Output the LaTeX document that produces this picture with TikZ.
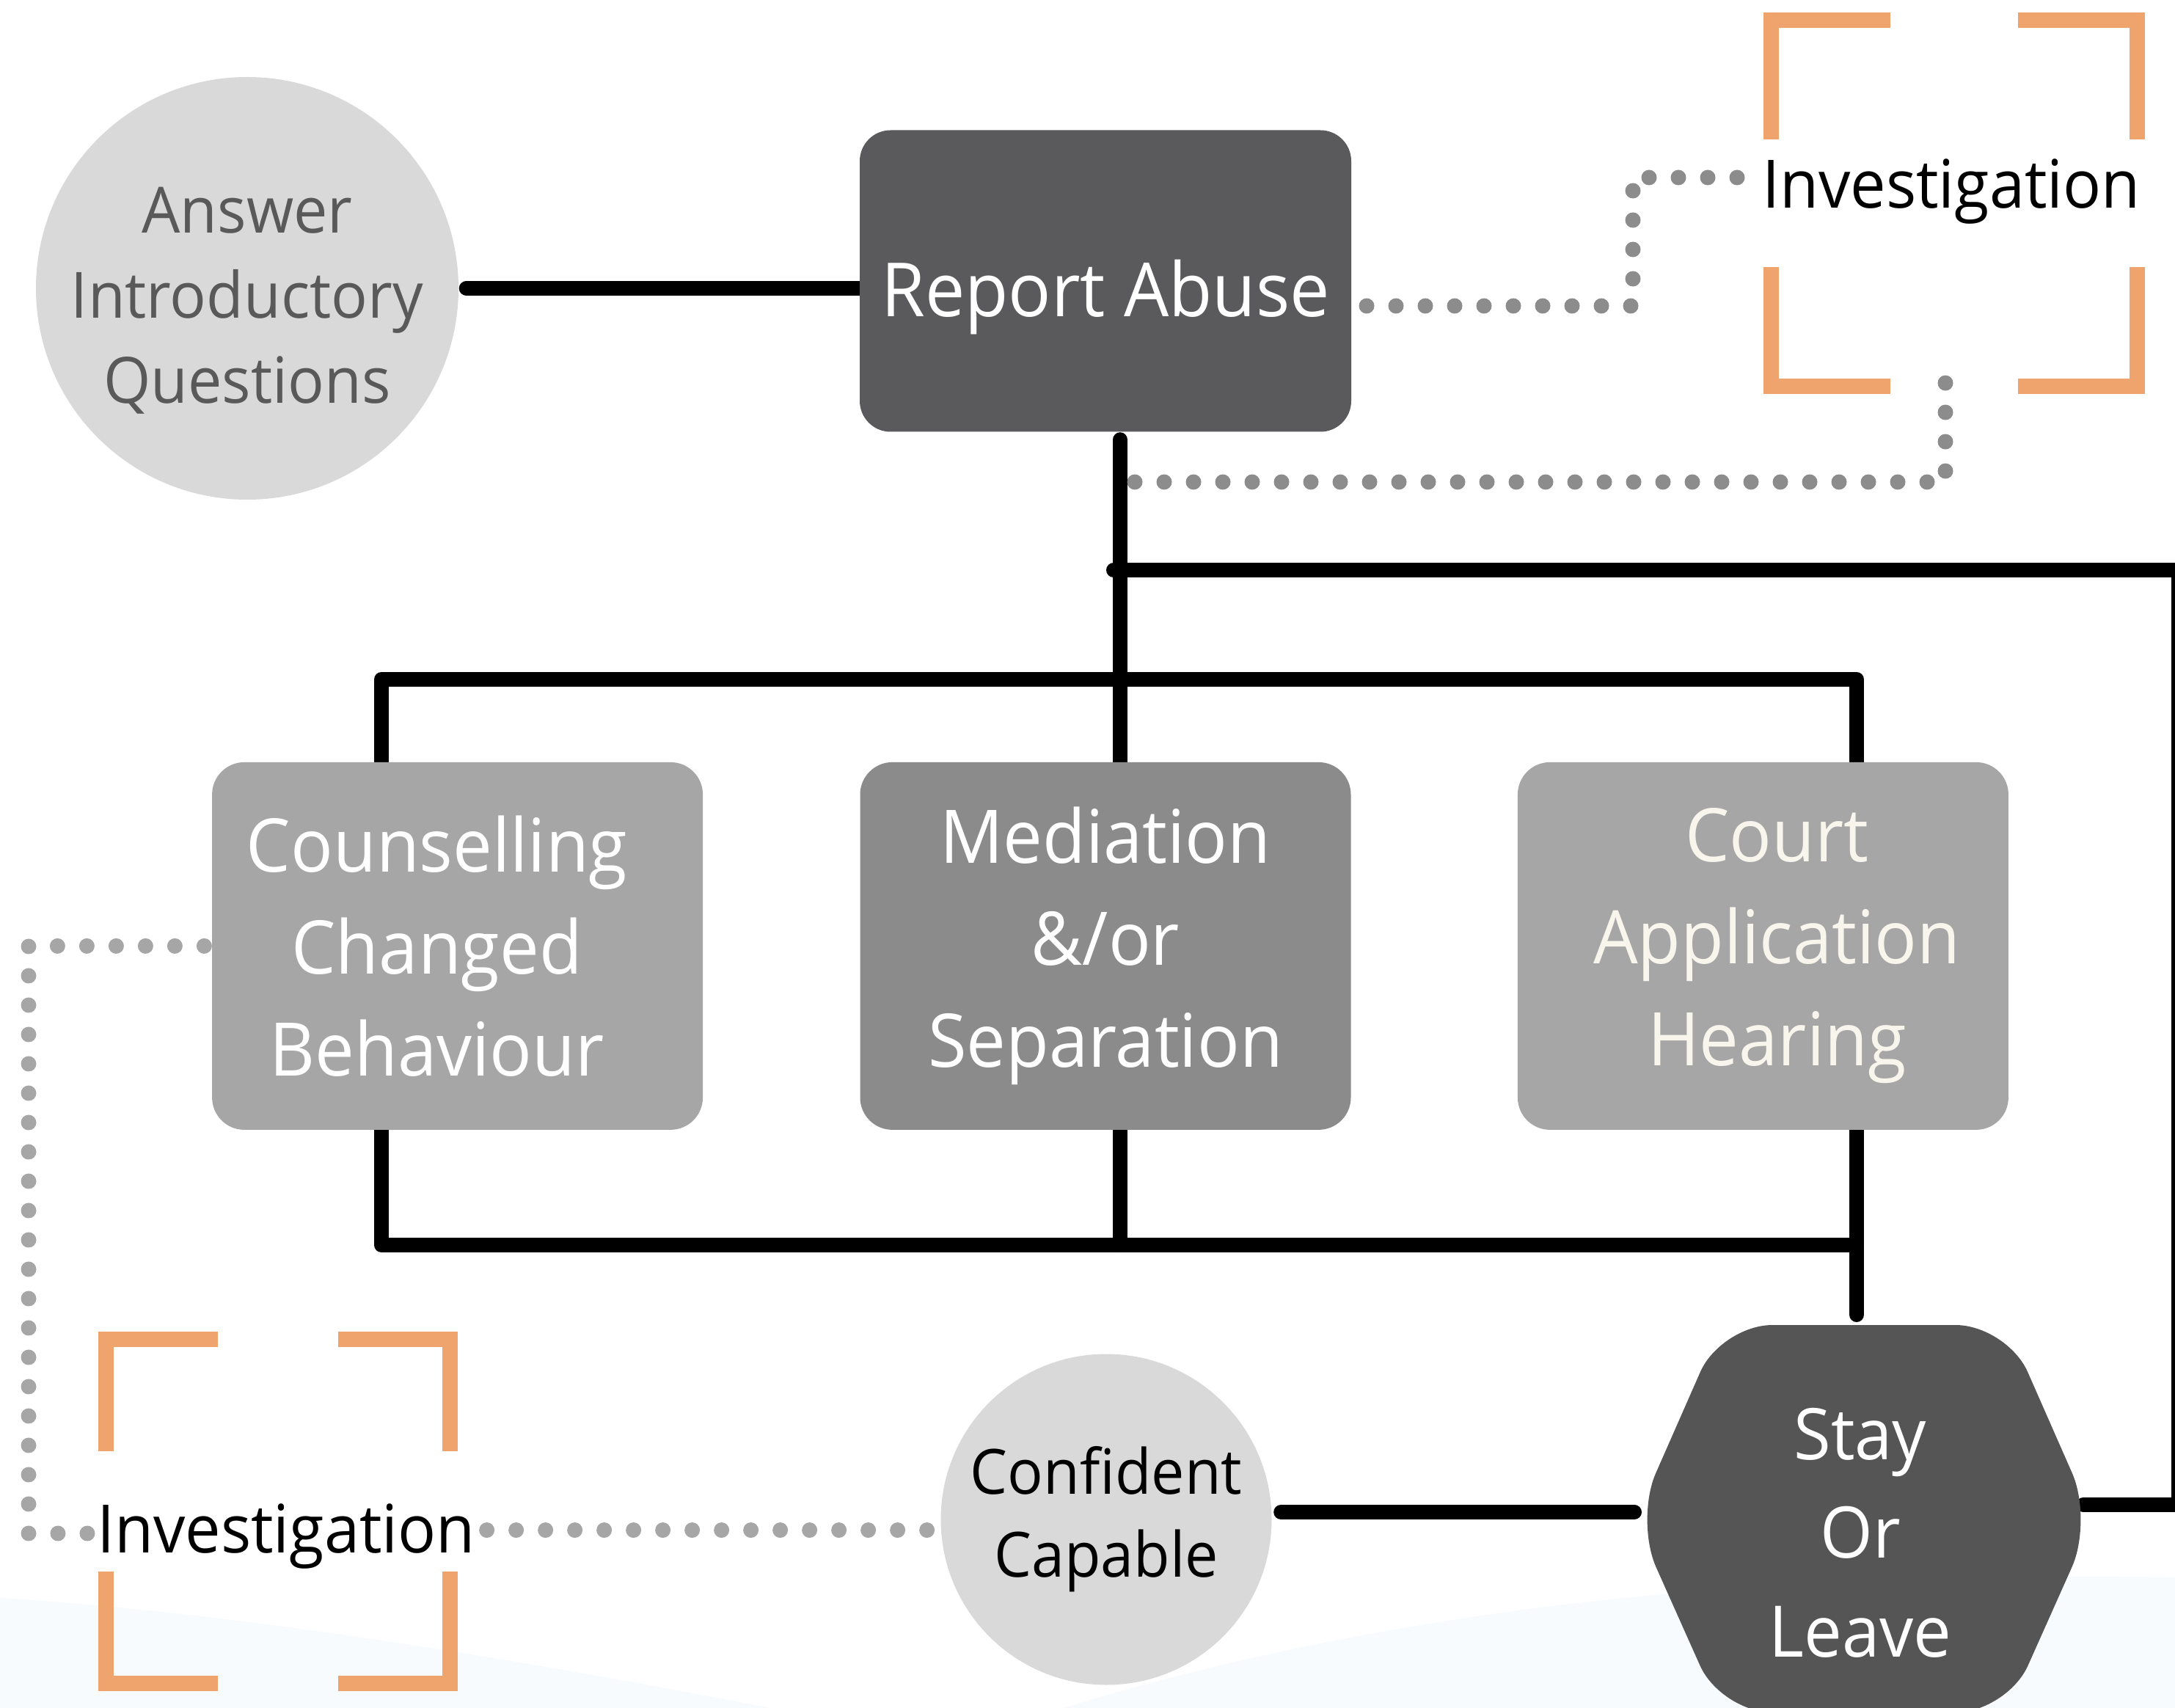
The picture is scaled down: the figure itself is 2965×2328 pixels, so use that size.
\documentclass[tikz,border=0pt]{standalone}
\usepackage{fontspec}
\setmainfont{Open Sans}[FakeStretch=0.95]
\usetikzlibrary{positioning,backgrounds}

\definecolor{darkbox}{HTML}{5A5A5C}
\definecolor{midbox}{HTML}{8B8B8B}
\definecolor{lightbox}{HTML}{A6A6A6}
\definecolor{bubble}{HTML}{D9D9D9}
\definecolor{hexgrey}{HTML}{555555}
\definecolor{introtext}{HTML}{595959}
\definecolor{armorange}{HTML}{EFA46D}
\definecolor{dotgrey}{HTML}{8C8C8C}
\definecolor{dotpale}{HTML}{A6A6A6}
\definecolor{wavetint}{HTML}{F7FBFD}
\definecolor{cream}{HTML}{F7F5EC}

% four orange corner marks round a centre: #1 centre, #2 outer half size
\newcommand{\cornerframe}[2]{%
  \pgfmathsetmacro\armin{#2-10.5}%
  \pgfmathsetmacro\armend{0.335*#2}%
  \foreach \sx/\sy in {1/1,1/-1,-1/1,-1/-1}{
    \draw[framestroke] ([shift={(\sx*\armend,\sy*\armin)}]#1)
      -- ([shift={(\sx*\armin,\sy*\armin)}]#1)
      -- ([shift={(\sx*\armin,\sy*\armend)}]#1);
  }%
}

\begin{document}
\begin{tikzpicture}[
    x=0.1mm, y=-0.1mm,
    every node/.style={inner sep=0pt},
    bubblenode/.style={circle, fill=bubble, minimum size=57.6mm, align=center},
    reportbox/.style={rectangle, fill=darkbox, rounded corners=4.2mm,
                      minimum width=67mm, minimum height=41.1mm, text=white,
                      font=\fontsize{29}{36}\selectfont,
                      text height=9.8mm, text depth=0mm},
    optionbox/.style={rectangle, rounded corners=4.4mm, minimum width=66.9mm,
                      minimum height=50.1mm, text=white, align=center,
                      font=\fontsize{28.7}{39.5}\selectfont},
    investtext/.style={anchor=base, font=\fontsize{25.9}{30}\selectfont},
    hexfill/.style={fill=hexgrey, rounded corners=7mm},
    hextext/.style={text=white, align=center, font=\fontsize{27.6}{38.3}\selectfont},
    framestroke/.style={draw=armorange, line width=2.1mm, line cap=butt, line join=miter},
    link/.style={draw=black, line width=2mm, line cap=round, line join=round},
    dotsdark/.style={draw=dotgrey, line width=2.1mm, line cap=round, dash pattern=on 0pt off 4mm},
    dotslight/.style={draw=dotpale, line width=2.1mm, line cap=round, dash pattern=on 0pt off 4mm},
]
\useasboundingbox (0,0) rectangle (2965,2328);

\node[bubblenode, inner sep=-2mm, text=introtext, font=\fontsize{24.75}{33}\selectfont] (intro) at (337,393)
  {\rule{0pt}{9.6mm}Answer\\Introductory\\Questions};
\node[reportbox] (report) at (1507,383) {Report Abuse};

\node[optionbox, fill=midbox, below=44.9mm of report] (mediate) {Mediation\\\&/or\\Separation};
\node[optionbox, fill=lightbox, left=21.3mm of mediate] (counsel)
  {\hbox{Counselling\kern5.6mm}\\\hbox{Changed\kern5.6mm}\\\hbox{Behaviour\kern5.6mm}};
\node[optionbox, fill=lightbox, text=cream, right=22.6mm of mediate] (court)
  {\hbox{\kern3.8mm Court}\\\hbox{\kern3.8mm Application}\\\hbox{\kern3.8mm Hearing}};

\fill[hexfill] (2346,1806) -- (2736,1806) -- (2853,2072) -- (2736,2334)
  -- (2346,2334) -- (2229,2072) -- cycle;
\node[hextext] (stay) at (2536,2089) {Stay\\Or\\Leave};

\node[bubblenode, minimum size=45.1mm, font=\fontsize{24.2}{32.2}\selectfont] (confident) at (1508,2071)
  {Confident\\Capable};

\node[investtext] (invtop) at (2660,284) {Investigation};
\node[investtext] (invbot) at (390,2116) {Investigation};

\coordinate (frametop) at (2664,277);
\coordinate (framebot) at (379,2060);
\cornerframe{frametop}{260}
\cornerframe{framebot}{245}

\coordinate (loopNW) at (1518,777);
\coordinate (loopNE) at (2970,777);
\coordinate (loopSE) at (2970,2051);
\coordinate (hexE) at (2840,2051);
\coordinate (hexN) at (2531,1792);
\coordinate (hexW) at (2228,2072);
\coordinate (splitL) at (520,926);
\coordinate (splitR) at (2531,926);
\coordinate (joinR) at (2531,1697);
\coordinate (riseStart) at (1863,417);
\coordinate (riseTop) at (2226,242);
\coordinate (riseEnd) at (2372,242);
\coordinate (dropA) at (2652,505);
\coordinate (dropB) at (1547,657);
\coordinate (sideBend) at (39,2090);
\coordinate (sideEnd) at (119,2090);

\begin{scope}[on background layer]
\fill[white] (0,0) rectangle (2965,2328);
\fill[wavetint] (0,2178) .. controls (350,2200) and (750,2270) .. (1050,2328) -- (0,2328) -- cycle;
\fill[wavetint] (1450,2328) .. controls (1900,2190) and (2400,2140) .. (2965,2150) -- (2965,2328) -- cycle;

\draw[link, shorten <=1mm] (intro.east) -- (intro.east -| report.west);
\draw[link, shorten <=1mm] ([xshift=2mm]report.south) -- ([xshift=2mm]mediate.north);
\draw[link] (loopNW) -- (loopNE) -- (loopSE) -- (hexE);
\draw[link] (counsel.north -| splitL) -- (splitL) -- (splitR) -- (court.north -| splitR);
\draw[link] (counsel.south -| splitL) |- (joinR);
\draw[link] ([xshift=2mm]mediate.south) -- ([xshift=2mm]mediate.south |- joinR);
\draw[link] (court.south -| splitR) -- (hexN);
\draw[link, shorten <=1.2mm] ([yshift=1mm]confident.east) -- ([yshift=1mm]confident.east -| hexW);

\draw[dotsdark] (riseStart) -| (riseTop) -- (riseEnd);
\draw[dotsdark] (dropB) -| (dropA);
\draw[dotslight] ([xshift=-1mm]counsel.west) -| (sideBend) -- (sideEnd);
\draw[dotslight, shorten <=1.5mm, shorten >=1.5mm] ([yshift=0.8mm]invbot.east) -- ([yshift=0.8mm]invbot.east -| confident.west);
\end{scope}

\end{tikzpicture}
\end{document}
